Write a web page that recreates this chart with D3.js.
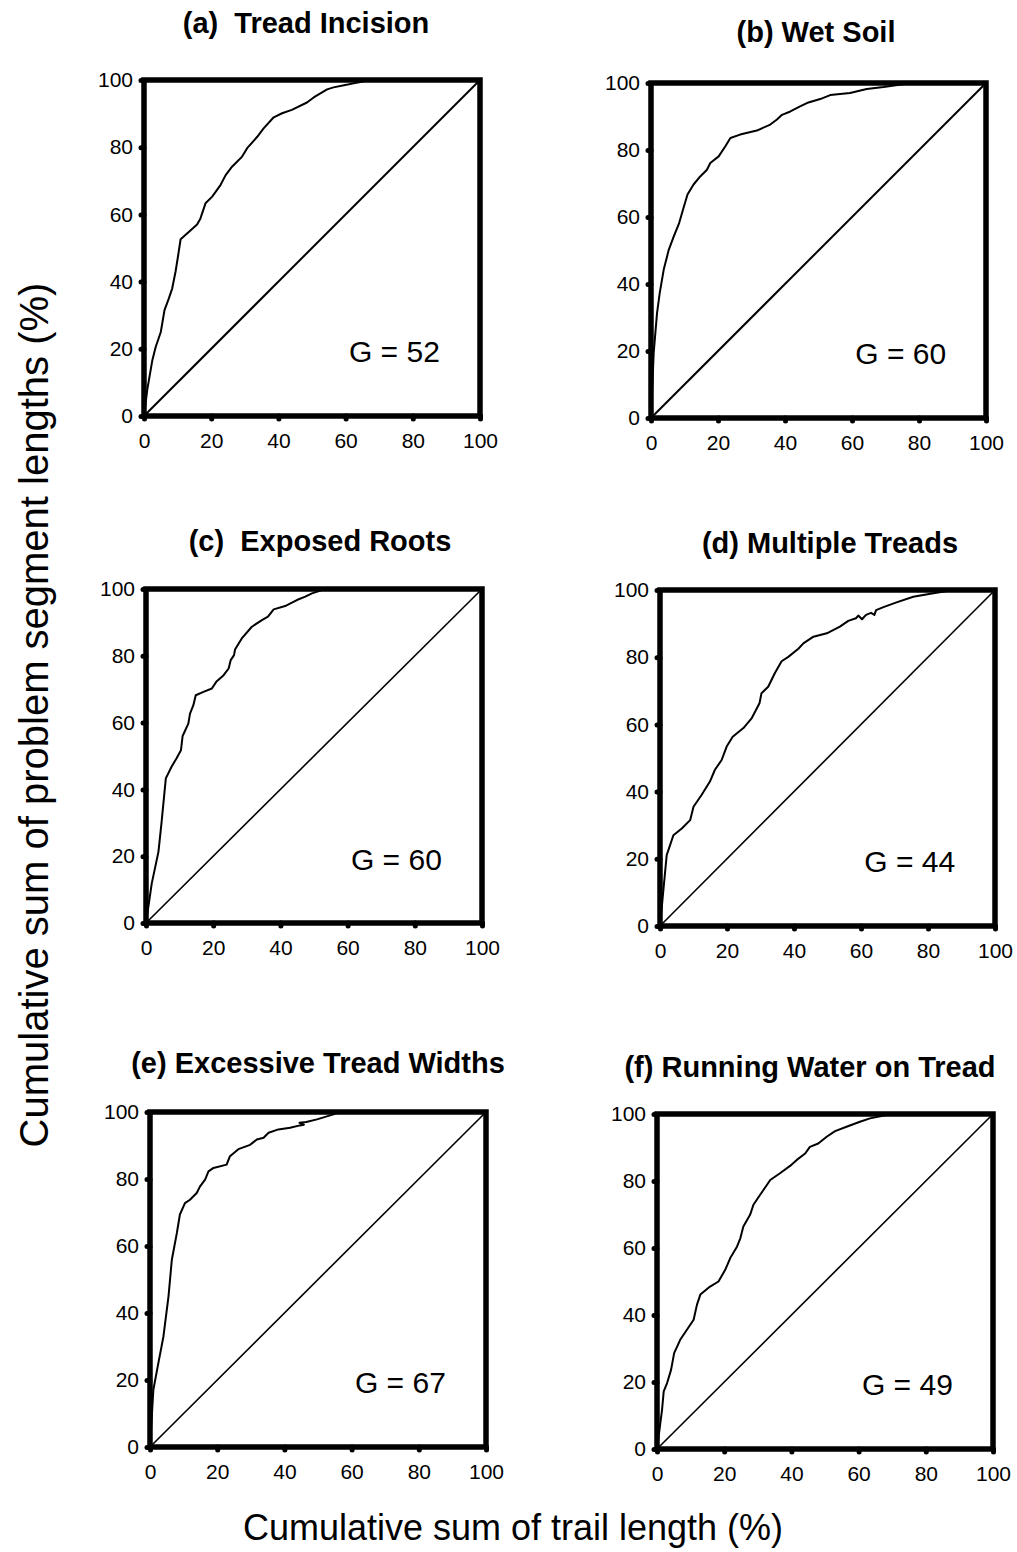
<!DOCTYPE html>
<html>
<head>
<meta charset="utf-8">
<script src="https://cdn.jsdelivr.net/npm/d3@7"></script>
<style>
  body { margin: 0; background: #fff; }
  svg { display: block; }
  text { font-family: "Liberation Sans", Arial, sans-serif; fill: #000; }
</style>
</head>
<body>
<div id="chart"></div>
<script>
// tick values (both axes, all panels)
var ticks = [0, 20, 40, 60, 80, 100];

var titles = ["(a)  Tread Incision", "(b) Wet Soil", "(c)  Exposed Roots",
              "(d) Multiple Treads", "(e) Excessive Tread Widths", "(f) Running Water on Tread"];
var giniValues = [52, 60, 60, 44, 67, 49];

// Lorenz curves: [cum. trail length %, cum. problem length %]
var treadIncision = [[0,0],[1,8],[2.5,16.7],[3.5,20.6],[5,25],[6.1,31.5],[7.4,35],[8.4,38],[9.4,43],
  [10.1,47.4],[10.9,52.6],[12.9,54.4],[15.8,57],[16.8,58.8],[18.3,63.3],[20.3,65.3],[22.8,68.8],
  [24.3,71.7],[26.2,74.2],[29.2,77.2],[30.7,79.7],[33.7,83.1],[35.6,85.6],[38.6,88.9],[41.1,90.1],
  [44,91.1],[48.5,93.3],[50.5,94.8],[54.5,97.2],[56.4,97.8],[59.9,98.5],[62.4,99],[66.3,99.8],[100,100]];

var wetSoil = [[0,0],[0.8,19.4],[1.8,31.3],[2.6,37.3],[3.8,44.3],[5.3,50.2],[6.8,54.2],[8.4,58.2],
  [9.7,62.7],[10.9,66.7],[12.7,69.7],[14.7,72.1],[16.7,74.1],[17.7,76.1],[20.2,78.1],[22.2,81.1],
  [23.7,83.6],[26.6,84.6],[31.6,85.8],[35.6,87.6],[37.6,89.1],[39.1,90.5],[41.6,91.5],[44.5,93],
  [47,94.2],[50.5,95.2],[53.5,96.4],[59.4,97],[64.4,98.2],[69.4,98.8],[76.3,99.8],[100,100]];

var exposedRoots = [[0,0],[1.7,11.8],[3.7,21.3],[4.6,29.8],[5.9,43.3],[7.6,46.8],[9.1,49.3],[10.4,51.7],
  [10.9,56],[12.6,59.7],[13.1,62.7],[14.1,65.2],[14.8,68.2],[17.1,69.2],[19.6,70.2],[20.9,72.2],
  [23.1,74.2],[24.6,76.2],[25.2,78.7],[26.2,80.2],[26.5,81.9],[28.5,85.2],[31.5,88.7],[34.5,90.7],
  [36.3,91.7],[38,93.9],[41.4,94.9],[44.9,96.7],[47.4,97.7],[49.4,98.7],[53.3,100],[100,100]];

var multipleTreads = [[0,0],[1,10.6],[2,21.1],[4,27],[6.5,29],[9,31.5],[10,35.5],[12.4,39],[14.9,43],
  [16.4,46.5],[18.4,49.4],[19.9,53.4],[21.7,56.3],[24.9,58.9],[27.4,61.9],[29.7,66.3],[30.3,69.3],
  [32.3,71.2],[34.3,75.3],[36.3,78.8],[38.3,80.1],[41.3,82.5],[42.8,84.1],[45.8,86.1],[49.8,87.1],
  [53.7,89.1],[56.2,90.8],[58.5,91.6],[59.2,92.4],[60.3,91.3],[61.5,92.6],[63,93.2],[64,92.6],
  [64.5,94],[66.7,94.9],[70.6,96.3],[75.6,98],[81.6,99],[87.6,100],[100,100]];

var excessiveWidths = [[0,0],[1,17.1],[2.5,25.1],[4,33],[5.5,44.9],[6.5,55.9],[8,63.9],[8.9,69.4],
  [10.4,72.8],[11.9,73.8],[13.9,75.8],[14.9,77.8],[16.4,79.8],[17.4,82.3],[18.9,83.3],[22.8,84.3],
  [23.8,86.8],[26.3,88.9],[29.8,90.2],[31.8,91.8],[33.8,92.3],[35.3,93.8],[38.2,94.8],[41.7,95.3],
  [44.6,96],[45.8,96.2],[44.5,96.8],[46.5,97],[49.7,97.8],[54.6,99.3],[56.6,100],[100,100]];

var runningWater = [[0,0],[1,7.8],[1.5,11.7],[2,17.2],[3,19.7],[4.2,23.7],[5.1,28.6],[6.9,32.6],
  [8.9,35.6],[10.9,38.6],[11.9,43.1],[12.9,46.1],[15.8,48.5],[18.3,50],[20.3,53.5],[21.8,57],
  [23.8,60.4],[24.8,62.9],[25.7,66.4],[27.7,69.9],[28.7,72.9],[30.7,75.9],[32.7,78.8],[33.7,80.3],
  [36.6,82.3],[39.6,84.5],[41.6,86.3],[44.1,88.2],[45.5,90.2],[48,91.2],[50.5,93.2],[53,94.9],
  [56.4,96.2],[60.4,97.7],[63.4,98.7],[68.3,99.7],[71.3,100],[100,100]];

var series = [treadIncision, wetSoil, exposedRoots, multipleTreads, excessiveWidths, runningWater];

// panel frames in page pixels
var panels = [
  {left: 144, top: 80,   w: 336, h: 336, titleX: 306, titleY: 33,   diag: 2},
  {left: 651, top: 83,   w: 335, h: 335, titleX: 816, titleY: 42,   diag: 2},
  {left: 146, top: 589,  w: 336, h: 334, titleX: 320, titleY: 551,  diag: 1.6},
  {left: 660, top: 590,  w: 335, h: 336, titleX: 830, titleY: 553,  diag: 1.6},
  {left: 150, top: 1112, w: 336, h: 335, titleX: 318, titleY: 1073, diag: 1.6},
  {left: 657, top: 1114, w: 336, h: 335, titleX: 810, titleY: 1077, diag: 1.6}
];

var svg = d3.select("#chart").append("svg")
  .attr("width", 1017)
  .attr("height", 1552);

panels.forEach(function(p, i) {
  var x = d3.scaleLinear().domain([0, 100]).range([0, p.w]);
  var y = d3.scaleLinear().domain([0, 100]).range([p.h, 0]);

  var g = svg.append("g").attr("transform", "translate(" + p.left + "," + p.top + ")");

  // x axis
  var xa = g.append("g")
    .attr("transform", "translate(0," + p.h + ")")
    .call(d3.axisBottom(x).tickValues(ticks).tickSize(3).tickPadding(14).tickSizeOuter(0));
  // y axis
  var ya = g.append("g")
    .call(d3.axisLeft(y).tickValues(ticks).tickSize(3).tickPadding(8).tickSizeOuter(0));

  [xa, ya].forEach(function(a) {
    a.select(".domain").remove();
    a.selectAll(".tick line").attr("stroke", "#000").attr("stroke-width", 5).attr("stroke-linecap", "round");
    a.selectAll(".tick text").style("font-size", "21px").attr("fill", "#000");
  });

  // equality line
  g.append("line")
    .attr("x1", x(0)).attr("y1", y(0))
    .attr("x2", x(100)).attr("y2", y(100))
    .attr("stroke", "#000").attr("stroke-width", p.diag);

  // lorenz curve
  var line = d3.line()
    .x(function(d) { return x(d[0]); })
    .y(function(d) { return y(d[1]); });

  g.append("path")
    .datum(series[i])
    .attr("d", line)
    .attr("fill", "none")
    .attr("stroke", "#000")
    .attr("stroke-width", 2)
    .attr("stroke-linejoin", "round");

  // frame
  g.append("rect")
    .attr("x", 0).attr("y", 0)
    .attr("width", p.w).attr("height", p.h)
    .attr("fill", "none")
    .attr("stroke", "#000")
    .attr("stroke-width", 5.5);

  // G value
  g.append("text")
    .attr("x", x(61))
    .attr("y", y(16))
    .style("font-size", "30px")
    .text("G = " + giniValues[i]);

  // panel title
  svg.append("text")
    .attr("x", p.titleX)
    .attr("y", p.titleY)
    .attr("text-anchor", "middle")
    .style("white-space", "pre")
    .style("font-size", "29px")
    .style("font-weight", "bold")
    .text(titles[i]);
});

// shared axis titles
svg.append("text")
  .attr("transform", "translate(48,715) rotate(-90)")
  .attr("text-anchor", "middle")
  .style("font-size", "40px")
  .text("Cumulative sum of problem segment lengths (%)");

svg.append("text")
  .attr("x", 513)
  .attr("y", 1540)
  .attr("text-anchor", "middle")
  .style("font-size", "36px")
  .text("Cumulative sum of trail length (%)");
</script>
</body>
</html>
